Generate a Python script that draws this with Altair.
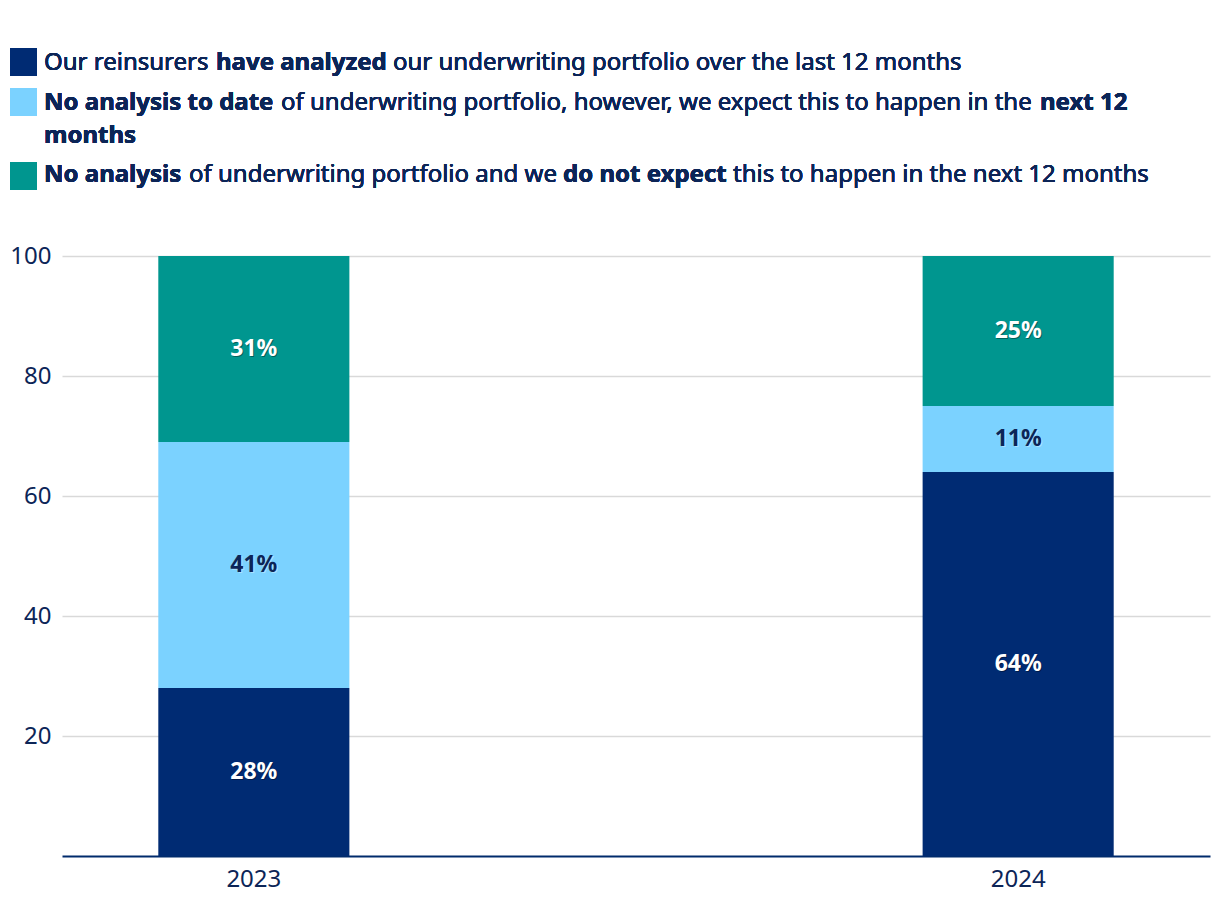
import altair as alt
import pandas as pd

years = ["2023", "2024"]
categories = ["have analyzed", "expect in next 12 months", "do not expect"]
values_2023 = [28, 41, 31]
values_2024 = [64, 11, 25]
colors = ["#002b73", "#7bd2ff", "#00968f"]
label_text_2023 = ["28%", "41%", "31%"]
label_text_2024 = ["64%", "11%", "25%"]

rows = []
for yr, vals, labs in zip(years, [values_2023, values_2024], [label_text_2023, label_text_2024]):
    for i, (c, v, l) in enumerate(zip(categories, vals, labs)):
        rows.append({"year": yr, "category": c, "value": v, "order": i, "label": l})
df = pd.DataFrame(rows)

NAVY = "#0c2557"
FONT = "Noto Sans"
W, H = 1148, 600
OX, OY = 62, 256  # plot origin on page

base = alt.Chart(df)

x_enc = alt.X(
    "year:N",
    scale=alt.Scale(paddingInner=0.75, paddingOuter=0.126),
    axis=alt.Axis(title=None, labelAngle=0, domain=True, domainColor="#002b6c", domainWidth=2,
                  ticks=False, labelFontSize=24, labelColor=NAVY, labelFont=FONT, labelPadding=11,
                  grid=False),
)

bars = base.mark_bar().encode(
    x=x_enc,
    y=alt.Y("value:Q", stack="zero", scale=alt.Scale(domain=[0, 100], nice=False),
            axis=alt.Axis(title=None, values=[20, 40, 60, 80, 100], grid=True, gridColor="#d9d9d9",
                          gridWidth=1.5, domain=False, ticks=False, labelFontSize=24,
                          labelColor=NAVY, labelFont=FONT, labelPadding=11)),
    color=alt.Color("category:N", scale=alt.Scale(domain=categories, range=colors), legend=None),
    order=alt.Order("order:Q"),
)

lab_base = base.transform_stack(
    stack="value", groupby=["year"], sort=[alt.SortField("order")], as_=["v0", "v1"]
).transform_calculate(mid="(datum.v0 + datum.v1) / 2")

shadow = lab_base.mark_text(font=FONT, fontSize=23, fontWeight="bold", dx=1, dy=1, opacity=0.35,
                            baseline="middle").encode(
    x=alt.X("year:N"),
    y=alt.Y("mid:Q"),
    text="label:N",
    color=alt.condition(alt.datum.order == 1, alt.value("#ffffff"), alt.value("#000000")),
)

labels = lab_base.mark_text(font=FONT, fontSize=23, fontWeight="bold", baseline="middle").encode(
    x=alt.X("year:N"),
    y=alt.Y("mid:Q"),
    text="label:N",
    color=alt.condition(alt.datum.order == 1, alt.value(NAVY), alt.value("#ffffff")),
)

# legend (custom, with mixed bold text)
legend_squares = [(48, 76, 0), (88, 116, 1), (162, 190, 2)]
legend_segments = [
    (70, 44, "Our reinsurers", "normal"),
    (70, 216, "have analyzed", "bold"),
    (70, 393, "our underwriting portfolio over the last 12 months", "normal"),
    (110, 44, "No analysis to date", "bold"),
    (110, 281, "of underwriting portfolio, however, we expect this to happen in the", "normal"),
    (110, 1040, "next 12", "bold"),
    (143, 44, "months", "bold"),
    (182, 44, "No analysis", "bold"),
    (182, 189, "of underwriting portfolio and we", "normal"),
    (182, 563, "do not expect", "bold"),
    (182, 733, "this to happen in the next 12 months", "normal"),
]

layers = [bars, shadow, labels]
for y0, y1, ci in legend_squares:
    layers.append(
        alt.Chart(df).mark_rect(color=colors[ci]).encode(
            x=alt.value(10 - OX), x2=alt.value(37 - OX), y=alt.value(y0 - OY), y2=alt.value(y1 - OY)
        )
    )
for yb, xl, txt, wt in legend_segments:
    layers.append(
        alt.Chart(df).mark_text(text=txt, font=FONT, fontSize=24, fontWeight=wt, color=NAVY,
                                align="left", baseline="alphabetic").encode(
            x=alt.value(xl - OX), y=alt.value(yb - OY)
        )
    )

chart = alt.layer(*layers).properties(
    width=W, height=H,
    background="white",
    autosize=alt.AutoSizeParams(type="none"),
    padding={"left": OX, "top": OY, "right": 10, "bottom": 66},
).configure_view(stroke=None)

chart.save("out.html", embed_options={"renderer": "svg", "actions": False})
